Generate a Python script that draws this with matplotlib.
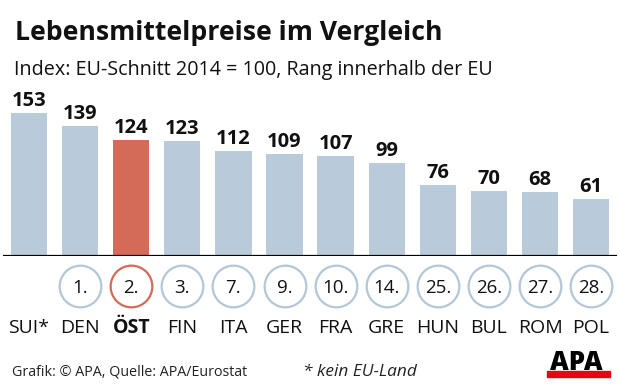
import matplotlib.pyplot as plt
from matplotlib.patches import Rectangle

plt.rcParams['font.family'] = ['Open Sans', 'DejaVu Sans']

countries = ["SUI*", "DEN", "ÖST", "FIN", "ITA", "GER", "FRA", "GRE", "HUN", "BUL", "ROM", "POL"]
values = [153, 139, 124, 123, 112, 109, 107, 99, 76, 70, 68, 61]
ranks = ["", "1.", "2.", "3.", "7.", "9.", "10.", "14.", "25.", "26.", "27.", "28."]
highlight = "ÖST"

W, H = 620, 388
blue = "#b9cbda"
red = "#d46a58"
circ_blue = "#b3c7d8"

fig = plt.figure(figsize=(W / 100, H / 100), dpi=100)

# bar axes: baseline at y=256px, 0.935 px per index point
base_px = 256
scale = 0.935
top_px = 100
ax = fig.add_axes([3.45 / W, (H - base_px) / H, 613.2 / W, (base_px - top_px) / H])
ax.set_xlim(-0.5, len(countries) - 0.5)
ax.set_ylim(0, (base_px - top_px) / scale)
ax.axis("off")

x = list(range(len(countries)))
colors = [red if c == highlight else blue for c in countries]
ax.bar(x, values, width=0.71, color=colors, zorder=2)
ax.axhline(0, color="black", lw=1.6, zorder=3)

for i, v in enumerate(values):
    ax.text(i, v + 7 / scale, str(v), ha="center", va="baseline",
            fontsize=14.5, fontweight="bold", color="#111111")

# rank circles
circ_y = -30 / scale
for i, r in enumerate(ranks):
    if not r:
        continue
    ec = red if countries[i] == highlight else circ_blue
    ax.scatter([i], [circ_y], s=900, facecolor="white", edgecolor=ec,
               linewidth=1.6, clip_on=False, zorder=3)
    ax.text(i, circ_y, r, ha="center", va="center_baseline", fontsize=13.5,
            color="#111111", zorder=4)

# country labels
lab_y = -77 / scale
for i, c in enumerate(countries):
    ax.text(i, lab_y, c, ha="center", va="baseline", fontsize=14,
            fontweight="bold" if c == highlight else "normal", color="#111111")

# titles
fig.text(15 / W, (H - 40) / H, "Lebensmittelpreise im Vergleich",
         fontsize=19.2, fontweight="bold", color="#111111", va="baseline")
fig.text(14 / W, (H - 75) / H, "Index: EU-Schnitt 2014 = 100, Rang innerhalb der EU",
         fontsize=14.2, color="#111111", va="baseline")

# footer
fig.text(12 / W, (H - 376) / H, "Grafik: © APA, Quelle: APA/Eurostat",
         fontsize=10.3, color="#222222", va="baseline")
fig.text(303 / W, (H - 376) / H, "* kein EU-Land",
         fontsize=12.4, style="italic", color="#222222", va="baseline")

# APA logo
fig.text(576 / W, (H - 370) / H, "APA", fontsize=18.5, fontweight="heavy",
         color="black", ha="center", va="baseline")
fig.patches.append(Rectangle((547 / W, (H - 377) / H), 63 / W, 6 / H,
                             transform=fig.transFigure, color="#e30613"))

fig.savefig("out.png", dpi=100)
